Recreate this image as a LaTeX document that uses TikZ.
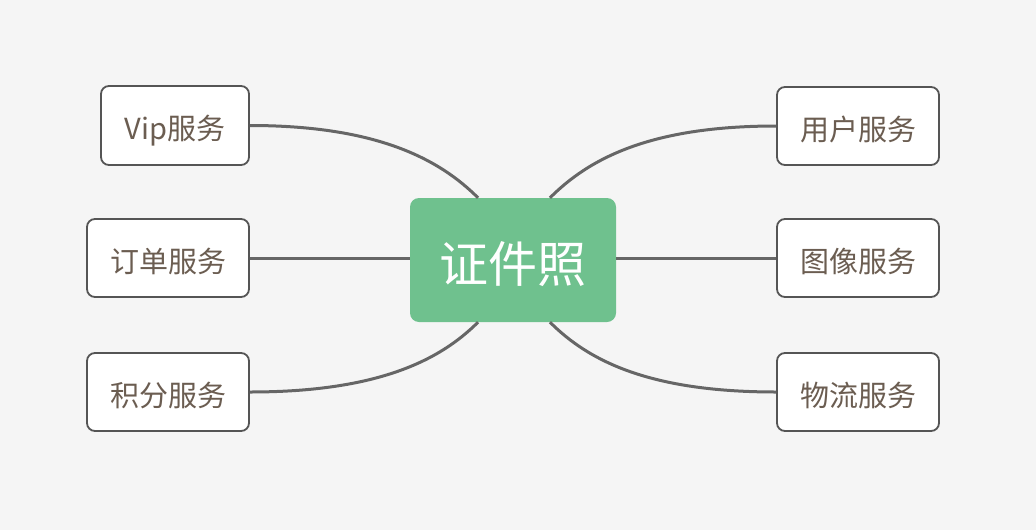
\documentclass[tikz,border=0pt]{standalone}
\usepackage{fontspec}
\setmainfont{Noto Sans CJK SC}
\usetikzlibrary{calc}
\definecolor{bgc}{HTML}{F5F5F5}
\definecolor{greenc}{HTML}{6FC18E}
\definecolor{linec}{HTML}{666666}
\definecolor{borderc}{HTML}{555555}
\definecolor{textc}{HTML}{6B5D51}
\tikzset{
  leaf/.style={draw=borderc, line width=1.8pt, fill=white, rounded corners=8pt,
    minimum width=162pt, minimum height=78pt, inner sep=0pt, text=textc,
    text height=29pt, text depth=1pt,
    font=\fontsize{29pt}{32pt}\selectfont},
  hub/.style={fill=greenc, rounded corners=9pt, minimum width=206pt, minimum height=124pt,
    inner sep=0pt, text=white, text height=46pt, text depth=2pt,
    font=\fontsize{49pt}{54pt}\selectfont},
  link/.style={draw=linec, line width=3pt}
}
\begin{document}
\begin{tikzpicture}[x=1pt,y=-1pt]
\fill[bgc] (0,0) rectangle (1036,530);
\useasboundingbox (0,0) rectangle (1036,530);
\node[hub] (c) at (513,260) {证件照};
\node[leaf, minimum width=148pt, minimum height=79pt] (vip) at (175,125.5) {Vip服务};
\node[leaf] (ding) at (168,258) {订单服务};
\node[leaf] (jifen) at (168,392) {积分服务};
\node[leaf] (user) at (858,126) {用户服务};
\node[leaf] (img) at (858,258) {图像服务};
\node[leaf] (wuliu) at (858,392) {物流服务};
\draw[link] (vip.east) .. controls +(128,0) and +(-38,-38) .. ($(c.north)+(-35,0)$);
\draw[link] (jifen.east) .. controls +(128,0) and +(-38,38) .. ($(c.south)+(-35,0)$);
\draw[link] (user.west) .. controls +(-128,0) and +(38,-38) .. ($(c.north)+(37,0)$);
\draw[link] (wuliu.west) .. controls +(-128,0) and +(38,38) .. ($(c.south)+(37,0)$);
\draw[link] (ding.east) -- (ding.east -| c.west);
\draw[link] (img.west) -- (img.west -| c.east);
\end{tikzpicture}
\end{document}
